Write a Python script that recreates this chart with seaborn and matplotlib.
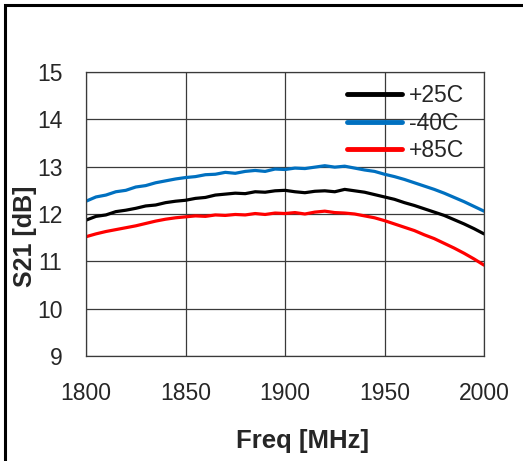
import numpy as np
import pandas as pd
import matplotlib
matplotlib.use("Agg")
import matplotlib.pyplot as plt
import seaborn as sns
from matplotlib.patches import Rectangle

freq = list(range(1800, 2001, 5))
s21_p25 = [11.87, 11.95, 11.98, 12.05, 12.08, 12.12, 12.17, 12.19, 12.24, 12.27,
           12.29, 12.33, 12.35, 12.40, 12.42, 12.44, 12.43, 12.47, 12.46, 12.49,
           12.50, 12.47, 12.45, 12.48, 12.49, 12.47, 12.52, 12.49, 12.46, 12.41,
           12.36, 12.31, 12.24, 12.18, 12.11, 12.04, 11.97, 11.88, 11.79, 11.69, 11.58]
s21_m40 = [12.27, 12.36, 12.40, 12.47, 12.50, 12.57, 12.60, 12.66, 12.70, 12.74,
           12.77, 12.79, 12.83, 12.84, 12.88, 12.86, 12.90, 12.92, 12.90, 12.95,
           12.94, 12.97, 12.96, 12.99, 13.02, 12.99, 13.01, 12.97, 12.93, 12.90,
           12.84, 12.79, 12.73, 12.66, 12.59, 12.52, 12.44, 12.35, 12.26, 12.16, 12.06]
s21_p85 = [11.52, 11.58, 11.63, 11.67, 11.71, 11.75, 11.80, 11.85, 11.89, 11.92,
           11.94, 11.96, 11.95, 11.98, 11.97, 11.99, 11.98, 12.01, 11.99, 12.02,
           12.01, 12.03, 12.00, 12.04, 12.06, 12.03, 12.02, 12.00, 11.96, 11.92,
           11.86, 11.79, 11.72, 11.65, 11.56, 11.48, 11.38, 11.28, 11.17, 11.05, 10.92]
labels = ["+25C", "-40C", "+85C"]
colors = ["#000000", "#0070C0", "#FF0000"]
xticks = [1800, 1850, 1900, 1950, 2000]
yticks = [9, 10, 11, 12, 13, 14, 15]

df = pd.concat([
    pd.DataFrame({"Freq": freq, "S21": vals, "Temp": lab})
    for vals, lab in zip([s21_p25, s21_m40, s21_p85], labels)
])

sns.set_style("white")
plt.rcParams["font.family"] = ["Liberation Sans", "DejaVu Sans"]

fig = plt.figure(figsize=(5.23, 4.61), dpi=100)
ax = fig.add_axes([86/523, 1-356/461, (484-86)/523, (356-72)/461])

sns.lineplot(data=df, x="Freq", y="S21", hue="Temp", hue_order=labels,
             palette=colors, linewidth=2.3, ax=ax, legend=True)

ax.set_xlim(1800, 2000)
ax.set_ylim(9, 15)
ax.set_xticks(xticks)
ax.set_yticks(yticks)
ax.grid(True, color="#3a3a3a", linewidth=0.9)
ax.set_axisbelow(True)
for sp in ax.spines.values():
    sp.set_visible(True)
    sp.set_color("#3a3a3a")
    sp.set_linewidth(0.9)
ax.tick_params(axis="both", which="major", direction="out", length=5,
               width=0.9, color="#3a3a3a", labelsize=16.5)
ax.tick_params(axis="x", pad=14)
ax.tick_params(axis="y", pad=12)
ax.set_xlabel("Freq [MHz]", fontsize=18.5, fontweight="bold")
ax.set_ylabel("S21 [dB]", fontsize=18, fontweight="bold")
ax.xaxis.set_label_coords(0.544, -0.299)
ax.xaxis.label.set_va("center")
ax.yaxis.set_label_coords(-0.153, 0.4225)
ax.yaxis.label.set_va("center")

leg = ax.legend(loc="upper left", bbox_to_anchor=(0.656, 0.957), frameon=False,
                fontsize=16.5, handlelength=2.4, handletextpad=0.3,
                labelspacing=0.2, borderpad=0, borderaxespad=0)
for line in leg.get_lines():
    line.set_linewidth(3.5)

fig.patches.append(Rectangle((5/523, -0.05), 1.2, 1-5/461+0.05, transform=fig.transFigure,
                             fill=False, edgecolor="black", linewidth=2.2))

fig.savefig("out.png", dpi=100)
